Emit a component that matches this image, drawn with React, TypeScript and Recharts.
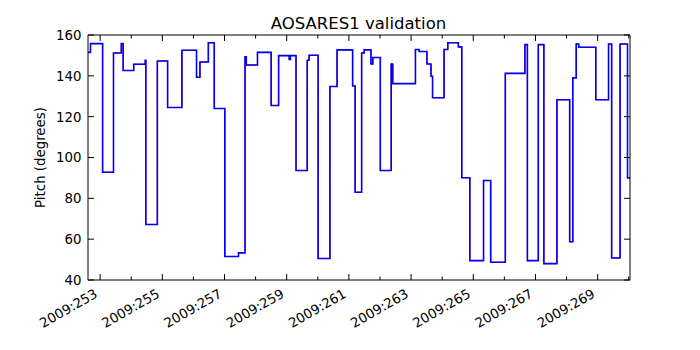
import React from "react";
import { LineChart, Line, XAxis, YAxis } from "recharts";

// Day of year 2009 (fractional) and pitch in degrees
const times = [
  252.61, 252.69, 253.08, 253.43, 253.68, 253.74, 254.08, 254.45, 254.47, 254.84,
  255.17, 255.63, 256.10, 256.21, 256.48, 256.67, 257.01, 257.45, 257.66, 257.70,
  258.06, 258.50, 258.74, 259.08, 259.12, 259.30, 259.66, 259.72, 260.01, 260.39,
  260.62, 261.12, 261.20, 261.41, 261.49, 261.71, 261.77, 262.01, 262.36, 262.41,
  263.14, 263.26, 263.51, 263.64, 263.69, 264.06, 264.18, 264.52, 264.63, 264.89,
  265.33, 265.56, 266.03, 266.66, 266.74, 267.09, 267.27, 267.69, 268.10, 268.20,
  268.31, 268.39, 268.94, 269.35, 269.45, 269.72, 269.96, 270.04,
];
const pitch = [
  151.5, 155.8, 92.8, 151.2, 155.8, 142.6, 145.7, 147.6, 67.2, 147.3,
  124.5, 152.5, 139.3, 146.8, 156.2, 124.0, 51.5, 53.3, 149.3, 145.3,
  151.5, 125.5, 149.9, 148.0, 149.9, 93.6, 147.6, 150.1, 50.5, 134.8,
  152.7, 135.0, 83.0, 151.2, 152.7, 145.8, 149.0, 93.6, 145.8, 136.2,
  152.9, 151.9, 145.8, 139.8, 129.3, 152.9, 156.2, 154.2, 90.1, 49.5,
  88.7, 48.7, 141.2, 155.3, 49.5, 155.3, 48.0, 128.3, 58.7, 139.0,
  155.6, 154.0, 128.3, 155.6, 50.8, 155.6, 90.0, 90.0,
];

const dayTicks = [253, 254, 255, 256, 257, 258, 259, 260, 261, 262, 263, 264, 265, 266, 267, 268, 269, 270];
const labeledDays = [253, 255, 257, 259, 261, 263, 265, 267, 269];
const yTicks = [40, 60, 80, 100, 120, 140, 160];
const yearLabel = "2009";
const title = "AOSARES1 validation";
const yLabel = "Pitch (degrees)";

const data = times.map((t, i) => ({ t, p: pitch[i] }));

const FONT = "DejaVu Sans";
const FS = 13.33;

const BottomTick = (props: any) => {
  const { x, y, payload } = props;
  const major = labeledDays.includes(payload.value);
  const ax = x - 1.7;
  const ay = y + 16.4;
  return (
    <g>
      <line x1={x} y1={y} x2={x} y2={y - (major ? 6 : 3.5)} stroke="#000" strokeWidth={1} />
      {major && (
        <text
          x={ax}
          y={ay}
          transform={`rotate(-30, ${ax}, ${ay})`}
          textAnchor="end"
          fontFamily={FONT}
          fontSize={FS}
          fill="#000"
        >
          {`${yearLabel}:${payload.value}`}
        </text>
      )}
    </g>
  );
};

const TopTick = (props: any) => {
  const { x, y, payload } = props;
  const major = labeledDays.includes(payload.value);
  return <line x1={x} y1={y} x2={x} y2={y + (major ? 6 : 3.5)} stroke="#000" strokeWidth={1} />;
};

const LeftTick = (props: any) => {
  const { x, y, payload } = props;
  return (
    <g>
      <line x1={x} y1={y} x2={x + 6} y2={y} stroke="#000" strokeWidth={1} />
      <text x={x - 6.5} y={y + 4.86} textAnchor="end" fontFamily={FONT} fontSize={FS} fill="#000">
        {payload.value}
      </text>
    </g>
  );
};

const RightTick = (props: any) => {
  const { x, y } = props;
  return <line x1={x} y1={y} x2={x - 6} y2={y} stroke="#000" strokeWidth={1} />;
};

export default function App() {
  return (
    <div style={{ position: "absolute", left: 0, top: 0, width: 700, height: 350, background: "#fff" }}>
      <LineChart
        width={700}
        height={350}
        data={data}
        margin={{ top: 0, right: 0, bottom: 0, left: 0 }}
      >
        <XAxis
          xAxisId="b"
          dataKey="t"
          type="number"
          domain={[252.61, 270.04]}
          ticks={dayTicks}
          interval={0}
          tick={<BottomTick />}
          tickLine={false}
          tickSize={0}
          tickMargin={0}
          height={70}
          axisLine={{ stroke: "#000", strokeWidth: 1 }}
          allowDataOverflow
        />
        <XAxis
          xAxisId="t"
          orientation="top"
          dataKey="t"
          type="number"
          domain={[252.61, 270.04]}
          ticks={dayTicks}
          interval={0}
          tick={<TopTick />}
          tickLine={false}
          tickSize={0}
          tickMargin={0}
          height={35}
          axisLine={{ stroke: "#000", strokeWidth: 1 }}
          allowDataOverflow
        />
        <YAxis
          yAxisId="l"
          type="number"
          domain={[40, 160]}
          ticks={yTicks}
          interval={0}
          tick={<LeftTick />}
          tickLine={false}
          tickSize={0}
          tickMargin={0}
          width={88}
          axisLine={{ stroke: "#000", strokeWidth: 1 }}
          allowDataOverflow
        />
        <YAxis
          yAxisId="r"
          orientation="right"
          type="number"
          domain={[40, 160]}
          ticks={yTicks}
          interval={0}
          tick={<RightTick />}
          tickLine={false}
          tickSize={0}
          tickMargin={0}
          width={70}
          axisLine={{ stroke: "#000", strokeWidth: 1 }}
          allowDataOverflow
        />
        <Line
          xAxisId="b"
          yAxisId="l"
          type="stepAfter"
          dataKey="p"
          stroke="#ff0000"
          strokeWidth={1}
          dot={false}
          isAnimationActive={false}
        />
        <Line
          xAxisId="b"
          yAxisId="l"
          type="stepAfter"
          dataKey="p"
          stroke="#0000ff"
          strokeWidth={1.6}
          dot={false}
          isAnimationActive={false}
        />
      </LineChart>
      <svg
        width={700}
        height={350}
        style={{ position: "absolute", left: 0, top: 0, pointerEvents: "none" }}
      >
        <text x={358.5} y={29.3} textAnchor="middle" fontFamily={FONT} fontSize={16.5} fill="#000">
          {title}
        </text>
        <text
          x={45}
          y={157.5}
          transform="rotate(-90, 45, 157.5)"
          textAnchor="middle"
          fontFamily={FONT}
          fontSize={FS}
          fill="#000"
        >
          {yLabel}
        </text>
      </svg>
    </div>
  );
}
